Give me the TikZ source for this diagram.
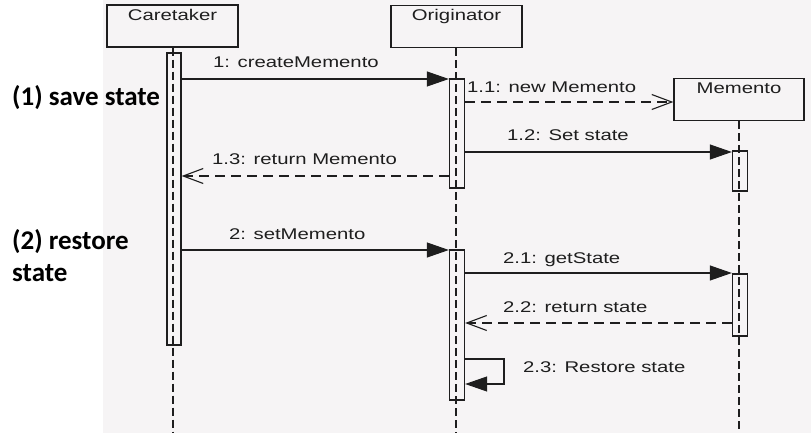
\documentclass[tikz,border=0pt]{standalone}
\usepackage{fontspec}
\setmainfont{Liberation Sans}
\newfontfamily\diagfont[FakeStretch=1.31]{Liberation Sans}
\newfontfamily\notefont{Carlito}
\usetikzlibrary{arrows.meta}
\definecolor{bgc}{RGB}{246,244,245}
\definecolor{ink}{RGB}{30,30,30}
\begin{document}
\begin{tikzpicture}[x=1pt,y=-1pt,
  lbl/.style={font=\diagfont\fontsize{15.5}{18}\selectfont, text=ink, inner sep=0pt, text height=11.5pt, text depth=3pt},
  note/.style={font=\notefont\bfseries\fontsize{27}{30}\selectfont, inner sep=0pt, anchor=west},
  obj/.style={draw=ink, line width=1.3pt, minimum height=42pt, minimum width=131pt, inner sep=0pt, fill=bgc},
  act/.style={draw=ink, line width=1.3pt, minimum width=15pt, inner sep=0pt},
  life/.style={draw=ink, line width=1.4pt, dash pattern=on 8pt off 4pt},
  msg/.style={draw=ink, line width=1.1pt, -{Triangle[length=22pt,width=15pt]}},
  ret/.style={draw=ink, line width=1.1pt, dash pattern=on 10pt off 6pt, -{Straight Barb[length=20pt,width=15pt,line width=1.1pt]}},
  msglbl/.style={lbl, anchor=west}
]
\useasboundingbox (0,0) rectangle (811,433);
\fill[white] (0,0) rectangle (811,433);
\fill[bgc] (103,0) rectangle (811,433);

% objects
\node[obj, label={[lbl, anchor=north, yshift=-4pt]north:Caretaker}] (care) at (172.5,26) {};
\node[obj, label={[lbl, anchor=north, yshift=-4pt]north:Originator}] (orig) at (456.5,26.5) {};
\node[obj, minimum width=130pt, label={[lbl, anchor=north, yshift=-4pt]north:Memento}] (mem) at (739,99.5) {};

% lifeline ends
\coordinate (careEnd) at (173,433);
\coordinate (origEnd) at (456,433);
\coordinate (memEnd) at (739,433);

% activation bars
\node[act, minimum width=14pt, minimum height=292pt] (careAct) at (174,199) {};
\node[act, minimum height=109pt] (origAct1) at (457,133.5) {};
\node[act, minimum height=150pt] (origAct2) at (457,325) {};
\node[act, minimum height=40pt] (memAct1) at (740,171) {};
\node[act, minimum height=62pt] (memAct2) at (740,305) {};

% lifelines
\draw[life] (careEnd |- care.south) -- (careEnd);
\draw[life] (origEnd |- orig.south) -- (origEnd);
\draw[life] (memEnd |- mem.south) -- (memEnd);

% messages
\draw[msg] (careAct.east |- 0,79) -- (origAct1.west |- 0,79);
\draw[ret] (origAct1.east |- 0,102) -- (mem.west |- 0,102);
\draw[msg] (origAct1.east |- 0,152) -- (memAct1.west |- 0,152);
\draw[ret] (origAct1.west |- 0,176) -- (careAct.east |- 0,176);
\draw[msg] (careAct.east |- 0,250) -- (origAct2.west |- 0,250);
\draw[msg] (origAct2.east |- 0,273) -- (memAct2.west |- 0,273);
\draw[ret] (memAct2.west |- 0,323) -- (origAct2.east |- 0,323);
\coordinate (loopR) at (504,359);
\draw[msg] (origAct2.east |- loopR) -- (loopR) -- (504,384) -- (origAct2.east |- 0,384);

% message labels
\node[msglbl] (l1) at (213,63) {1: createMemento};
\node[msglbl] (l11) at (467,88) {1.1: new Memento};
\node[msglbl] (l12) at (507,136) {1.2: Set state};
\node[msglbl] (l13) at (212,160) {1.3: return Memento};
\node[msglbl] (l2) at (229,235) {2: setMemento};
\node[msglbl] (l21) at (503,259) {2.1: getState};
\node[msglbl] (l22) at (503,308) {2.2: return state};
\node[msglbl] (l23) at (523,368) {2.3: Restore state};

% notes
\node[note] (n1) at (12,98) {(1) save state};
\node[note] (n2) at (12,242) {(2) restore};
\node[note] (n3) at (12,273) {state};
\end{tikzpicture}
\end{document}
